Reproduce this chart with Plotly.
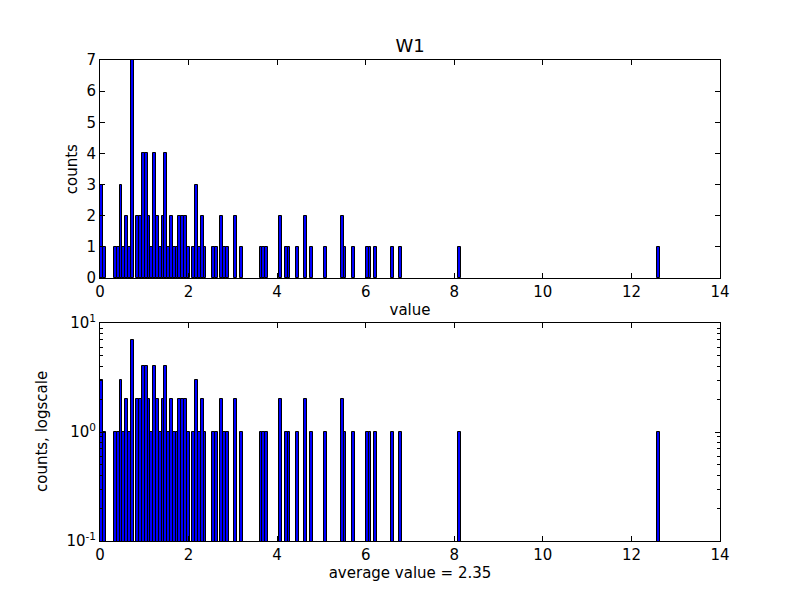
import plotly.graph_objects as go

# Histogram definition
X_MIN = 0.0
X_MAX = 12.64
N_BINS = 200
# non-empty bins: bin index and count
bin_index = [0, 1, 5, 6, 7, 8, 9, 10, 11, 13, 14, 15, 16, 17, 18, 19, 20, 21, 22, 23,
             24, 25, 26, 27, 28, 29, 30, 31, 33, 34, 35, 36, 37, 40, 41, 43, 44, 45, 48, 50,
             57, 58, 59, 64, 66, 67, 70, 73, 75, 80, 86, 87, 90, 95, 96, 98, 104, 107, 128, 199]
bin_count = [3, 1, 1, 1, 3, 1, 2, 1, 7, 2, 2, 4, 4, 2, 1, 4, 2, 1, 2, 4,
             1, 2, 1, 1, 2, 2, 2, 1, 1, 3, 1, 2, 1, 1, 1, 2, 1, 1, 2, 1,
             1, 1, 1, 2, 1, 1, 1, 2, 1, 1, 2, 1, 1, 1, 1, 1, 1, 1, 1, 1]

title_text = "W1"
top_xlabel = "value"
top_ylabel = "counts"
bot_xlabel = "average value = 2.35"
bot_ylabel = "counts, logscale"
x_ticks = [0, 2, 4, 6, 8, 10, 12, 14]
lin_yticks = [0, 1, 2, 3, 4, 5, 6, 7]
log_yticks = [0.1, 1, 10]
log_yticktext = ["10<sup>-1</sup>", "10<sup>0</sup>", "10<sup>1</sup>"]
log_minor = [0.2, 0.3, 0.4, 0.5, 0.6, 0.7, 0.8, 0.9, 2, 3, 4, 5, 6, 7, 8, 9]

width = (X_MAX - X_MIN) / N_BINS
centers = [X_MIN + (i + 0.5) * width for i in bin_index]

FONT = "DejaVu Sans"
fig = go.Figure()
bar_style = dict(marker=dict(color="#0000ff", line=dict(color="black", width=1)),
                 width=width, showlegend=False)
fig.add_trace(go.Bar(x=centers, y=bin_count, xaxis="x", yaxis="y", **bar_style))
fig.add_trace(go.Bar(x=centers, y=bin_count, xaxis="x2", yaxis="y2", **bar_style))

axis_common = dict(showline=True, linecolor="black", linewidth=1, mirror="allticks",
                   ticks="inside", ticklen=5, tickcolor="black", showgrid=False,
                   zeroline=False, automargin=False,
                   tickfont=dict(family=FONT, size=15, color="black"))

# the page body adds an 8px offset, margins compensate for it
fig.update_layout(
    width=800, height=600,
    paper_bgcolor="white", plot_bgcolor="white",
    margin=dict(l=92, r=88, t=52, b=67),
    bargap=0,
    font=dict(family=FONT, size=15, color="black"),
    title=dict(text=title_text, x=(410 - 8) / 800, xanchor="center", y=1 - 38 / 600,
               yanchor="middle", font=dict(family=FONT, size=18, color="black")),
    xaxis=dict(domain=[0, 1], range=[0, 14], tickvals=x_ticks, anchor="y",
               title=dict(text=top_xlabel, standoff=4, font=dict(size=15)), **axis_common),
    yaxis=dict(domain=[0.5468, 1], range=[0, 7], tickvals=lin_yticks, anchor="x",
               **axis_common),
    xaxis2=dict(domain=[0, 1], range=[0, 14], tickvals=x_ticks, anchor="y2",
                title=dict(text=bot_xlabel, standoff=4, font=dict(size=15)), **axis_common),
    yaxis2=dict(domain=[0, 0.4532], type="log", range=[-1, 1], tickvals=log_yticks,
                ticktext=log_yticktext, anchor="x2",
                minor=dict(tickvals=log_minor, ticks="inside", ticklen=3, tickcolor="black"),
                **axis_common),
    annotations=[
        dict(text=top_ylabel, xref="paper", yref="paper", x=-0.045, y=0.773,
             textangle=-90, showarrow=False, xanchor="center", yanchor="middle",
             font=dict(family=FONT, size=15, color="black")),
        dict(text=bot_ylabel, xref="paper", yref="paper", x=-0.0935, y=0.2266,
             textangle=-90, showarrow=False, xanchor="center", yanchor="middle",
             font=dict(family=FONT, size=15, color="black")),
    ],
)

fig.write_html("out.html")
